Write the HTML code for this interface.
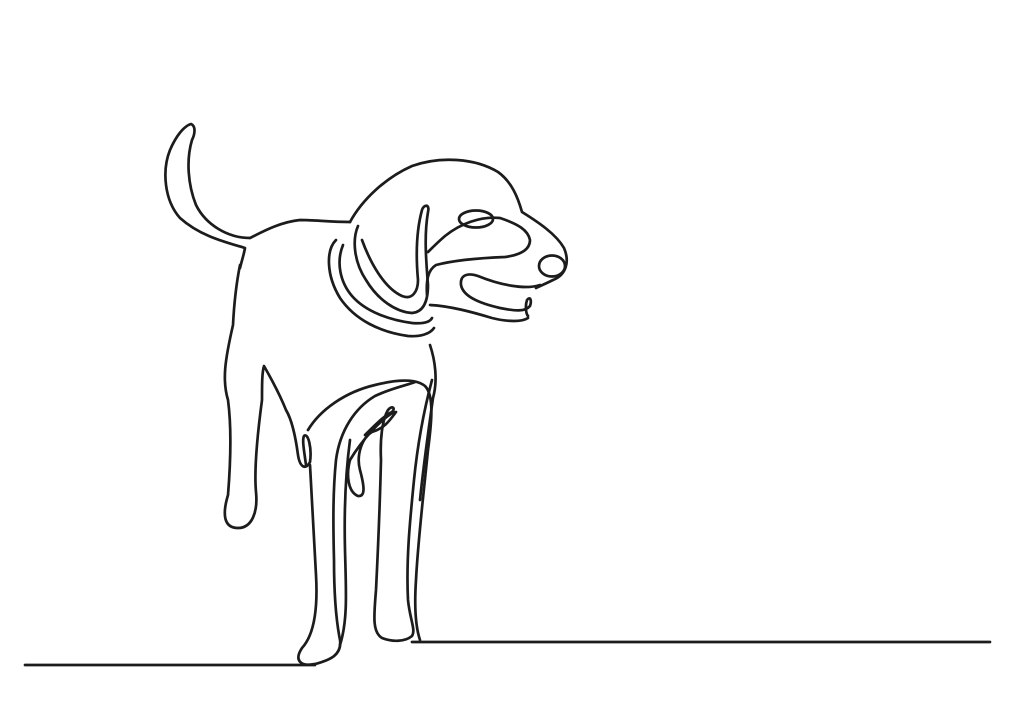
<!DOCTYPE html>
<html>
<head>
<meta charset="utf-8">
<style>
  html,body{margin:0;padding:0;background:#fff;}
  svg{display:block;}
</style>
</head>
<body>
<svg width="1024" height="725" viewBox="0 0 1024 725" xmlns="http://www.w3.org/2000/svg">
  <rect width="1024" height="725" fill="#ffffff"/>
  <g fill="none" stroke="#1c1c1c" stroke-width="2.7" stroke-linecap="round" stroke-linejoin="round">
    <path d="M25,665 L315,665"/>
    <path d="M412,642 L990,642"/>
    <!-- tail -->
    <path d="M240,268 C242,260 244,254 245,248 C225,242 200,236 180,218 C164,200 162,170 170,150 C176,136 184,126 191,124 C196,126 195,134 192,140 C186,160 188,185 196,205 C206,225 228,238 250,238 C262,232 280,222 300,220 C315,220 330,222 350,222"/>
    <!-- rump and hind leg -->
    <path d="M240,265 C236,285 234,305 233,325 C225,360 222,380 228,400 C232,430 230,470 228,495 C222,515 224,528 238,528 C252,528 258,512 256,492 C254,470 258,430 262,400 C262,385 262,372 264,366 C272,380 280,395 286,410 C292,420 296,440 298,455 C300,468 306,470 310,462 C312,448 308,432 304,436 C302,440 304,450 306,465"/>
    <!-- belly / thigh -->
    <path d="M308,430 C320,410 345,392 375,385 C395,380 415,378 425,386 C434,395 432,420 428,450 C424,490 418,540 416,580 C414,610 416,628 420,640"/>
    <path d="M430,345 C435,360 438,380 433,398 C430,420 424,460 420,500"/>
    <!-- front left leg -->
    <path d="M310,465 C312,500 314,540 316,575 C318,610 314,635 302,648 C294,660 300,667 315,664 C330,660 342,655 340,640 C336,620 334,590 334,560 C333,520 333,490 336,460 C340,430 355,408 375,396 C392,388 408,385 415,382"/>
    <path d="M350,440 C346,470 344,510 345,550 C346,590 348,620 340,645"/>
    <!-- small inner loop -->
    <path d="M394,412 C380,420 362,440 350,460 C346,475 348,492 358,496 C366,497 364,485 360,470 C356,455 362,438 372,432 C385,428 390,420 396,412"/>
    <!-- front right leg -->
    <path d="M365,435 C375,425 385,415 392,412 C396,408 392,405 388,410 C382,420 380,440 381,460 C380,500 378,550 376,590 C374,615 372,632 382,638 C392,642 405,642 412,636 C416,630 410,620 408,600 C406,560 410,520 414,480 C418,440 424,410 432,380"/>
    <!-- collar -->
    <path d="M336,240 C326,250 326,275 340,298 C355,320 380,332 408,336 C420,337 430,334 434,328"/>
    <path d="M343,245 C336,262 340,282 352,296 C366,312 390,320 412,323 C424,324 430,322 432,318"/>
    <!-- head outline -->
    <path d="M350,222 C362,200 385,178 412,166 C440,156 475,158 498,172 C512,182 518,198 522,212 C538,222 556,234 564,248 C570,262 566,275 553,280 C545,284 540,286 536,288"/>
    <!-- ear -->
    <path d="M358,226 C352,240 354,262 366,280 C378,300 396,312 412,313 C424,312 428,300 428,285 C426,260 424,235 428,212 C430,204 424,204 422,210 C416,232 416,258 418,280 C418,292 412,300 402,296 C384,288 370,262 362,240"/>
    <!-- brow / muzzle line -->
    <path d="M427,295 C426,280 428,270 436,265 C455,260 480,258 505,257 C520,255 530,250 530,240 C528,230 518,224 500,218 C480,216 460,224 445,236 C438,242 432,248 428,252"/>
    <!-- eye -->
    <ellipse cx="476" cy="219" rx="17" ry="8.5"/>
    <!-- nose -->
    <ellipse cx="552" cy="266" rx="13" ry="10.5"/>
    <!-- mouth -->
    <path d="M540,285 C525,290 500,285 478,276 C466,272 460,276 461,285 C463,296 478,303 500,308 C515,311 525,312 530,306 C532,300 530,296 527,300 C525,306 526,314 528,316"/>
    <path d="M430,305 C450,306 472,312 492,318 C508,322 522,322 528,318"/>
  </g>
</svg>
</body>
</html>
